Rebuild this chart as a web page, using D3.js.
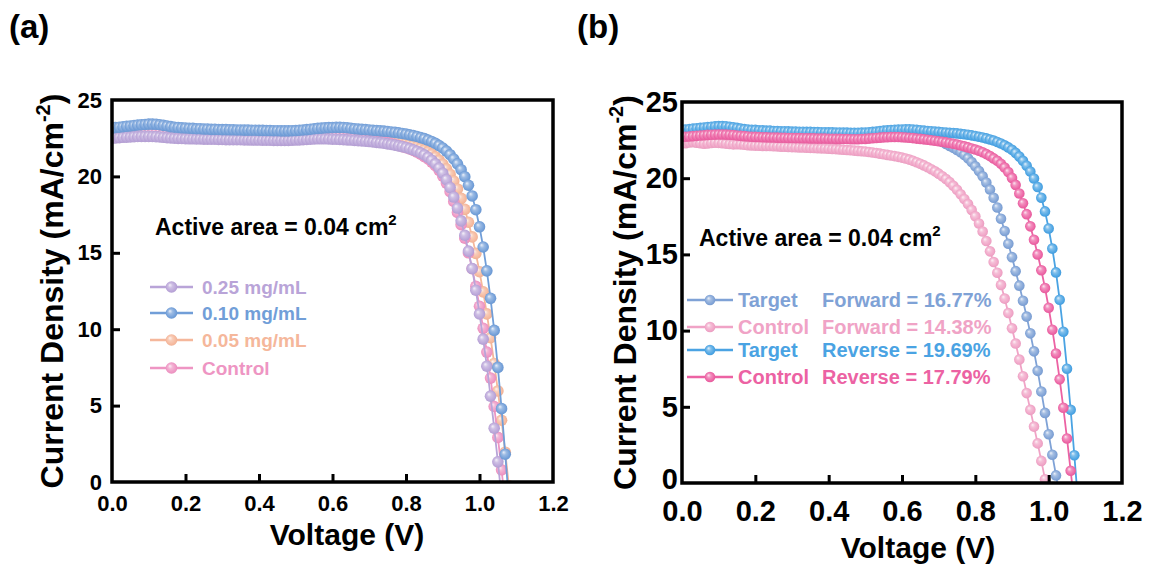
<!DOCTYPE html>
<html>
<head>
<meta charset="utf-8">
<script src="https://cdn.jsdelivr.net/npm/d3@7"></script>
<style>
  html, body { margin: 0; padding: 0; background: #ffffff; }
  svg { display: block; font-family: "Liberation Sans", Arial, Helvetica, sans-serif; font-weight: bold; }
</style>
</head>
<body>
<svg id="chart" width="1154" height="565"></svg>
<script>
// ---- Measured J–V data (voltage in V, current density in mA/cm²) ----
const voltage = [
  0.00,0.01,0.02,0.03,0.04,0.05,0.06,0.07,0.08,0.09,
  0.10,0.11,0.12,0.13,0.14,0.15,0.16,0.17,0.18,0.19,
  0.20,0.21,0.22,0.23,0.24,0.25,0.26,0.27,0.28,0.29,
  0.30,0.31,0.32,0.33,0.34,0.35,0.36,0.37,0.38,0.39,
  0.40,0.41,0.42,0.43,0.44,0.45,0.46,0.47,0.48,0.49,
  0.50,0.51,0.52,0.53,0.54,0.55,0.56,0.57,0.58,0.59,
  0.60,0.61,0.62,0.63,0.64,0.65,0.66,0.67,0.68,0.69,
  0.70,0.71,0.72,0.73,0.74,0.75,0.76,0.77,0.78,0.79,
  0.80,0.81,0.82,0.83,0.84,0.85,0.86,0.87,0.88,0.89,
  0.90,0.91,0.92,0.93,0.94,0.95,0.96,0.97,0.98,0.99,
  1.00,1.01,1.02,1.03,1.04,1.05,1.06,1.07,1.08,1.09
];

// 0.10 mg/mL (also the target device, reverse scan)
const jConc010 = [
  23.15,23.20,23.22,23.25,23.28,23.30,23.33,23.36,23.38,23.40,
  23.42,23.42,23.41,23.38,23.34,23.30,23.26,23.22,23.20,23.18,
  23.17,23.15,23.14,23.12,23.12,23.10,23.10,23.08,23.08,23.07,
  23.06,23.06,23.05,23.05,23.04,23.04,23.03,23.03,23.02,23.02,
  23.01,23.01,23.00,23.00,22.99,22.99,22.98,22.98,22.98,22.99,
  23.00,23.02,23.04,23.06,23.09,23.12,23.14,23.16,23.18,23.19,
  23.20,23.21,23.21,23.20,23.18,23.15,23.12,23.10,23.08,23.06,
  23.04,23.02,23.00,22.98,22.96,22.94,22.91,22.88,22.85,22.81,
  22.77,22.72,22.67,22.61,22.54,22.47,22.38,22.28,22.16,22.02,
  21.86,21.66,21.42,21.14,20.82,20.44,19.98,19.42,18.72,17.82,
  16.70,15.38,13.82,12.02,9.92,7.50,4.80,1.82,-1.20
];

// Control device (also the control device, reverse scan)
const jControl = [
  22.70,22.72,22.74,22.76,22.78,22.80,22.82,22.84,22.85,22.86,
  22.87,22.87,22.86,22.85,22.83,22.80,22.78,22.76,22.74,22.72,
  22.71,22.70,22.69,22.68,22.67,22.67,22.66,22.65,22.65,22.64,
  22.64,22.63,22.63,22.62,22.62,22.61,22.61,22.60,22.60,22.60,
  22.59,22.59,22.58,22.58,22.57,22.57,22.56,22.56,22.56,22.57,
  22.58,22.60,22.62,22.64,22.66,22.68,22.69,22.70,22.70,22.70,
  22.69,22.67,22.65,22.63,22.60,22.58,22.55,22.52,22.49,22.46,
  22.42,22.39,22.35,22.31,22.26,22.21,22.15,22.09,22.02,21.95,
  21.88,21.80,21.70,21.58,21.45,21.30,21.14,20.94,20.70,20.40,
  20.02,19.56,19.00,18.36,17.64,16.84,15.96,15.00,13.96,12.80,
  11.50,10.06,8.50,6.80,4.94,2.92,0.80,-1.40
];

// 0.25 mg/mL
const jConc025 = [
  22.50,22.52,22.54,22.56,22.57,22.58,22.60,22.61,22.62,22.62,
  22.62,22.61,22.60,22.58,22.56,22.54,22.52,22.50,22.49,22.48,
  22.47,22.46,22.46,22.45,22.45,22.44,22.44,22.43,22.43,22.42,
  22.42,22.41,22.41,22.40,22.40,22.40,22.39,22.39,22.38,22.38,
  22.38,22.37,22.37,22.37,22.36,22.36,22.36,22.36,22.36,22.37,
  22.38,22.39,22.41,22.42,22.44,22.45,22.46,22.46,22.46,22.45,
  22.44,22.43,22.42,22.41,22.39,22.38,22.36,22.34,22.32,22.30,
  22.28,22.26,22.23,22.20,22.17,22.13,22.09,22.05,22.00,21.95,
  21.89,21.82,21.74,21.65,21.54,21.41,21.25,21.06,20.83,20.55,
  20.21,19.79,19.27,18.65,17.93,17.09,16.15,15.11,13.97,12.55,
  11.00,9.35,7.58,5.62,3.52,1.32,-1.00
];

// 0.05 mg/mL
const jConc005 = [
  22.78,22.80,22.82,22.84,22.86,22.88,22.90,22.91,22.92,22.93,
  22.94,22.94,22.93,22.91,22.89,22.87,22.85,22.83,22.81,22.80,
  22.78,22.77,22.76,22.75,22.74,22.74,22.73,22.72,22.72,22.71,
  22.71,22.70,22.70,22.69,22.69,22.68,22.68,22.67,22.67,22.67,
  22.66,22.66,22.65,22.65,22.64,22.64,22.64,22.63,22.63,22.64,
  22.65,22.67,22.69,22.71,22.73,22.75,22.76,22.77,22.77,22.77,
  22.76,22.75,22.73,22.71,22.69,22.67,22.65,22.62,22.59,22.56,
  22.53,22.50,22.47,22.44,22.41,22.37,22.33,22.29,22.25,22.20,
  22.15,22.09,22.02,21.94,21.85,21.74,21.61,21.46,21.28,21.06,
  20.80,20.50,20.14,19.70,19.18,18.56,17.84,17.00,16.04,14.96,
  13.76,12.44,11.00,9.44,7.76,5.96,4.04,1.95,-0.25
];

// Target device, forward scan
const jTargetForward = [
  22.88,22.90,22.92,22.94,22.95,22.96,22.97,22.98,22.99,23.00,
  23.00,23.00,22.99,22.98,22.96,22.94,22.92,22.91,22.90,22.89,
  22.88,22.88,22.87,22.87,22.86,22.86,22.85,22.85,22.85,22.84,
  22.84,22.84,22.83,22.83,22.83,22.82,22.82,22.82,22.81,22.81,
  22.81,22.80,22.80,22.80,22.79,22.79,22.79,22.79,22.79,22.80,
  22.81,22.82,22.84,22.86,22.88,22.90,22.91,22.92,22.92,22.92,
  22.91,22.90,22.89,22.88,22.87,22.85,22.82,22.77,22.70,22.61,
  22.50,22.38,22.25,22.12,21.99,21.85,21.70,21.52,21.31,21.06,
  20.78,20.47,20.12,19.72,19.26,18.72,18.08,17.34,16.54,15.70,
  14.82,13.90,12.95,11.96,10.92,9.82,8.64,7.36,6.00,4.60,
  3.20,1.85,0.50,-0.85
];

// Control device, forward scan
const jControlForward = [
  22.28,22.30,22.34,22.36,22.33,22.30,22.26,22.28,22.31,22.33,
  22.32,22.30,22.27,22.24,22.22,22.23,22.22,22.19,22.16,22.15,
  22.14,22.13,22.12,22.12,22.11,22.10,22.09,22.07,22.06,22.05,
  22.04,22.03,22.02,22.01,22.00,21.99,21.98,21.97,21.96,21.95,
  21.94,21.92,21.91,21.89,21.87,21.85,21.83,21.81,21.79,21.77,
  21.75,21.72,21.69,21.65,21.61,21.57,21.53,21.49,21.45,21.40,
  21.35,21.29,21.22,21.14,21.05,20.95,20.84,20.72,20.59,20.45,
  20.30,20.13,19.95,19.74,19.50,19.24,18.95,18.64,18.30,17.92,
  17.50,17.03,16.50,15.88,15.20,14.50,13.80,13.00,12.10,11.15,
  10.15,9.15,8.10,7.00,5.90,4.80,3.70,2.60,1.45,0.25,
  -0.95
];

const jTargetReverse = jConc010;
const jControlReverse = jControl;

// ---- Labels ----
const legendLabelsA = ["0.25 mg/mL", "0.10 mg/mL", "0.05 mg/mL", "Control"];
const legendDevicesB = ["Target", "Control", "Target", "Control"];
const legendScansB = ["Forward = 16.77%", "Forward = 14.38%", "Reverse = 19.69%", "Reverse = 17.79%"];
const xTickValues = [0, 0.2, 0.4, 0.6, 0.8, 1.0, 1.2];
const yTickValues = [0, 5, 10, 15, 20, 25];

// ---- Colours ----
const coloursA = ["#b9a4d8", "#719ed8", "#f5b79b", "#ee95c3"];
const coloursB = ["#7fa2d6", "#f0a3c6", "#4aa3e3", "#ec62a3"];

const svg = d3.select("#chart");
const defs = svg.append("defs");

// Glossy ball fill: soft highlight toward the upper left
function sphereFill(id, colour) {
  const g = defs.append("radialGradient")
    .attr("id", id)
    .attr("cx", "50%").attr("cy", "50%").attr("r", "55%")
    .attr("fx", "35%").attr("fy", "32%");
  g.append("stop").attr("offset", "0%").attr("stop-color", d3.interpolateRgb(colour, "#ffffff")(0.85));
  g.append("stop").attr("offset", "35%").attr("stop-color", d3.interpolateRgb(colour, "#ffffff")(0.3));
  g.append("stop").attr("offset", "80%").attr("stop-color", colour);
  g.append("stop").attr("offset", "100%").attr("stop-color", d3.color(colour).darker(0.15).formatHex());
  return `url(#${id})`;
}

function drawPanel(cfg) {
  const x = d3.scaleLinear().domain([0, 1.2]).range([cfg.left, cfg.right]);
  const y = d3.scaleLinear().domain([0, 25]).range([cfg.bottom, cfg.top]);
  const g = svg.append("g");

  const clipId = "clip-" + cfg.key;
  defs.append("clipPath").attr("id", clipId)
    .append("rect")
    .attr("x", cfg.left).attr("y", cfg.top)
    .attr("width", cfg.right - cfg.left).attr("height", cfg.bottom - cfg.top);

  const plot = g.append("g").attr("clip-path", `url(#${clipId})`);
  const line = d3.line().x(d => x(d[0])).y(d => y(d[1]));

  cfg.drawOrder.forEach(i => {
    const s = cfg.series[i];
    const pts = s.values.map((j, k) => [voltage[k], j]);
    const fill = sphereFill(`sph-${cfg.key}-${i}`, s.colour);
    plot.append("path")
      .attr("d", line(pts))
      .attr("fill", "none")
      .attr("stroke", s.colour)
      .attr("stroke-width", 1.8);
    plot.append("g").selectAll("circle")
      .data(pts)
      .join("circle")
      .attr("cx", d => x(d[0]))
      .attr("cy", d => y(d[1]))
      .attr("r", cfg.markerR)
      .attr("fill", fill);
  });

  // Axes with inward ticks
  const xAxis = d3.axisBottom(x).tickValues(xTickValues).tickFormat(d3.format(".1f"))
    .tickSizeInner(-cfg.tickLen).tickSizeOuter(0).tickPadding(cfg.xPad);
  const yAxis = d3.axisLeft(y).tickValues(yTickValues).tickFormat(d3.format("d"))
    .tickSizeInner(-cfg.tickLen).tickSizeOuter(0).tickPadding(cfg.yPad);

  const gx = g.append("g").attr("transform", `translate(0,${cfg.bottom})`).call(xAxis);
  const gy = g.append("g").attr("transform", `translate(${cfg.left},0)`).call(yAxis);
  [gx, gy].forEach(a => {
    a.select(".domain").remove();
    a.selectAll(".tick line").attr("stroke", "#000").attr("stroke-width", 3);
    a.selectAll(".tick text")
      .attr("fill", "#000")
      .attr("font-family", "'Liberation Sans', Arial, sans-serif")
      .attr("font-weight", "bold")
      .attr("font-size", cfg.tickFont);
  });
  gx.selectAll(".tick line").filter(d => d === 0 || d === 1.2).remove();
  gy.selectAll(".tick line").filter(d => d === 0 || d === 25).remove();
  // keep the zero label of the current axis clear of the voltage labels
  gy.selectAll(".tick text").filter(d => d === 0).attr("dy", cfg.zeroDy);

  // Frame
  g.append("rect")
    .attr("x", cfg.left).attr("y", cfg.top)
    .attr("width", cfg.right - cfg.left).attr("height", cfg.bottom - cfg.top)
    .attr("fill", "none").attr("stroke", "#000").attr("stroke-width", 3.5);

  // Axis titles
  g.append("text")
    .attr("x", cfg.xTitleX).attr("y", cfg.xTitleY)
    .attr("text-anchor", "middle").attr("font-size", 30).attr("fill", "#000")
    .text("Voltage (V)");

  const yt = g.append("text")
    .attr("transform", `translate(${cfg.yTitleX},${(cfg.top + cfg.bottom) / 2}) rotate(-90)`)
    .attr("text-anchor", "middle").attr("font-size", 32).attr("fill", "#000");
  yt.append("tspan").text("Current Density (mA/cm");
  yt.append("tspan").attr("font-size", 20).attr("dy", -13).text("-2");
  yt.append("tspan").attr("dy", 13).text(")");

  // Active area note
  const note = g.append("text")
    .attr("x", cfg.noteX).attr("y", cfg.noteY)
    .attr("font-size", 23).attr("fill", "#000");
  note.append("tspan").text("Active area = 0.04 cm");
  note.append("tspan").attr("font-size", 15).attr("dy", -10).text("2");

  // Panel letter
  g.append("text")
    .attr("x", cfg.letterX).attr("y", 38)
    .attr("font-size", 33).attr("fill", "#000")
    .text(cfg.letter);

  // Legend
  const lg = g.append("g");
  cfg.series.forEach((s, i) => {
    const ly = cfg.legendRows[i];
    lg.append("line")
      .attr("x1", cfg.legendX1).attr("x2", cfg.legendX2)
      .attr("y1", ly).attr("y2", ly)
      .attr("stroke", s.colour).attr("stroke-width", 2.5);
    lg.append("circle")
      .attr("cx", (cfg.legendX1 + cfg.legendX2) / 2).attr("cy", ly)
      .attr("r", cfg.markerR)
      .attr("fill", `url(#sph-${cfg.key}-${i})`);
    s.labels.forEach((t, k) => {
      lg.append("text")
        .attr("x", cfg.legendTextX[k]).attr("y", ly)
        .attr("dy", "0.36em")
        .attr("font-size", cfg.legendFont)
        .attr("fill", s.colour)
        .text(t);
    });
  });
}

drawPanel({
  key: "a", letter: "(a)", letterX: 9,
  left: 112, right: 553, top: 100, bottom: 482,
  tickLen: 8, xPad: 13, yPad: 10, tickFont: 22, zeroDy: "0.32em",
  markerR: 5.8,
  xTitleX: 347, xTitleY: 545, yTitleX: 63,
  noteX: 155, noteY: 235,
  legendRows: [287, 313, 340, 368], legendX1: 150, legendX2: 193,
  legendTextX: [202], legendFont: 19,
  series: [
    { values: jConc025, colour: coloursA[0], labels: [legendLabelsA[0]] },
    { values: jConc010, colour: coloursA[1], labels: [legendLabelsA[1]] },
    { values: jConc005, colour: coloursA[2], labels: [legendLabelsA[2]] },
    { values: jControl, colour: coloursA[3], labels: [legendLabelsA[3]] }
  ],
  drawOrder: [2, 3, 0, 1]
});

drawPanel({
  key: "b", letter: "(b)", letterX: 577,
  left: 682, right: 1122, top: 102, bottom: 483,
  tickLen: 8, xPad: 17, yPad: 4, tickFont: 29, zeroDy: "0.2em",
  markerR: 5.3,
  xTitleX: 918, xTitleY: 558, yTitleX: 636,
  noteX: 699, noteY: 246,
  legendRows: [300, 327, 350, 377], legendX1: 687, legendX2: 733,
  legendTextX: [738, 822], legendFont: 20,
  series: [
    { values: jTargetForward, colour: coloursB[0], labels: [legendDevicesB[0], legendScansB[0]] },
    { values: jControlForward, colour: coloursB[1], labels: [legendDevicesB[1], legendScansB[1]] },
    { values: jTargetReverse, colour: coloursB[2], labels: [legendDevicesB[2], legendScansB[2]] },
    { values: jControlReverse, colour: coloursB[3], labels: [legendDevicesB[3], legendScansB[3]] }
  ],
  drawOrder: [0, 1, 2, 3]
});
</script>
</body>
</html>
